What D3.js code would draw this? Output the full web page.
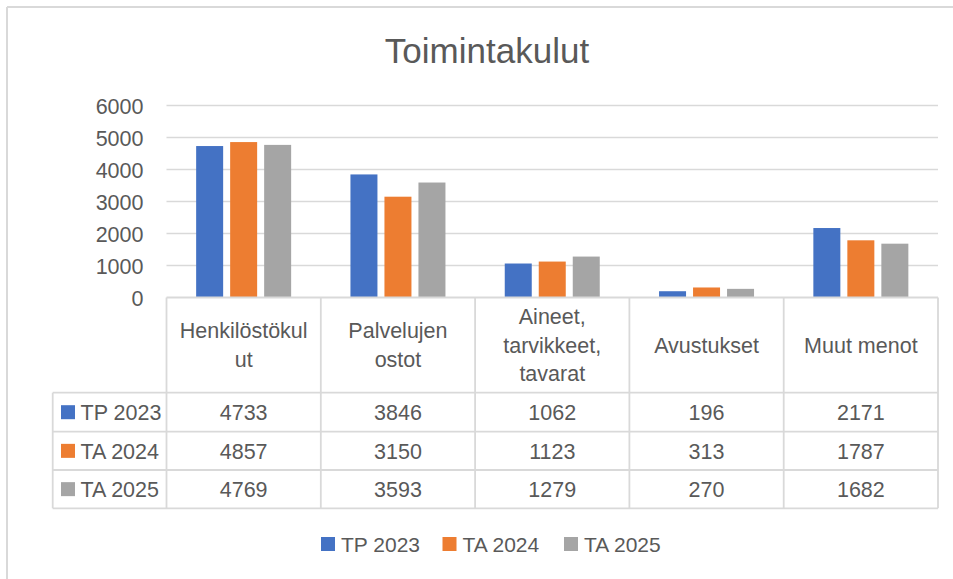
<!DOCTYPE html>
<html>
<head>
<meta charset="utf-8">
<script src="https://cdn.jsdelivr.net/npm/d3@7"></script>
<style>
  html, body { margin: 0; padding: 0; background: #fff; }
  svg { display: block; }
  text { font-family: "Liberation Sans", Arial, sans-serif; fill: #595959; }
</style>
</head>
<body>
<svg id="chart" width="953" height="579"></svg>
<script>
const title = "Toimintakulut";
const categories = ["Henkilöstökulut", "Palvelujen ostot", "Aineet, tarvikkeet, tavarat", "Avustukset", "Muut menot"];
const categoryLines = [["Henkilöstökul", "ut"], ["Palvelujen", "ostot"], ["Aineet,", "tarvikkeet,", "tavarat"], ["Avustukset"], ["Muut menot"]];
const seriesNames = ["TP 2023", "TA 2024", "TA 2025"];
const tp2023 = [4733, 3846, 1062, 196, 2171];
const ta2024 = [4857, 3150, 1123, 313, 1787];
const ta2025 = [4769, 3593, 1279, 270, 1682];
const yTicks = [0, 1000, 2000, 3000, 4000, 5000, 6000];
const colors = ["#4472C4", "#ED7D31", "#A5A5A5"];

const seriesValues = [tp2023, ta2024, ta2025];
const svg = d3.select("#chart");
const gridColor = "#d9d9d9";

// outer frame (top and left visible)
svg.append("line").attr("x1", 7).attr("x2", 953).attr("y1", 7).attr("y2", 7)
  .attr("stroke", gridColor).attr("stroke-width", 2);
svg.append("line").attr("x1", 7).attr("x2", 7).attr("y1", 7).attr("y2", 579)
  .attr("stroke", gridColor).attr("stroke-width", 2);

// title
svg.append("text").attr("x", 487).attr("y", 63).attr("text-anchor", "middle")
  .style("font-size", "35px").text(title);

const plotLeft = 166.5, plotRight = 938, y0 = 297.5;
const x0 = d3.scaleBand().domain(categories).range([plotLeft, plotRight]).padding(0);
const y = d3.scaleLinear().domain([0, 6000]).range([y0, 105.5]);
const bw = x0.bandwidth();
const groupW = 95;
const x1 = d3.scaleBand().domain(seriesNames)
  .range([(bw - groupW) / 2, (bw + groupW) / 2]).paddingInner(0.206).paddingOuter(0);

// gridlines
svg.append("g").selectAll("line").data(yTicks.filter(d => d > 0)).join("line")
  .attr("x1", plotLeft).attr("x2", plotRight)
  .attr("y1", d => y(d)).attr("y2", d => y(d))
  .attr("stroke", gridColor).attr("stroke-width", 1.5);

// y axis labels
const yAxis = d3.axisLeft(y).tickValues(yTicks).tickFormat(d3.format("d")).tickSize(0).tickPadding(0);
const ya = svg.append("g").attr("transform", "translate(143.5,0)").call(yAxis);
ya.select(".domain").remove();
ya.selectAll("text").style("font-size", "21.5px").attr("fill", "#595959")
  .style("font-family", '"Liberation Sans", Arial, sans-serif').attr("dy", "0.36em");

// bars
const groups = svg.append("g").selectAll("g").data(categories).join("g")
  .attr("transform", d => `translate(${x0(d)},0)`);
groups.selectAll("rect").data((c, ci) => seriesNames.map((s, si) => ({ s, si, v: seriesValues[si][ci] })))
  .join("rect")
  .attr("x", d => x1(d.s)).attr("width", x1.bandwidth())
  .attr("y", d => y(d.v)).attr("height", d => y0 - y(d.v))
  .attr("fill", d => colors[d.si]);

// data table
const headerBottom = 392.7;
const rowBounds = [392.7, 431.7, 470, 508.3];
const tableLeft = 52.7;
const tbl = svg.append("g");
const lineAttr = sel => sel.attr("stroke", gridColor).attr("stroke-width", 1.8);
tbl.append("line").attr("x1", plotLeft).attr("x2", plotRight).attr("y1", y0).attr("y2", y0).call(lineAttr);
rowBounds.forEach(r => tbl.append("line").attr("x1", tableLeft).attr("x2", plotRight).attr("y1", r).attr("y2", r).call(lineAttr));
const colEdges = categories.map(c => x0(c)).concat([plotRight]);
colEdges.forEach(xe => tbl.append("line").attr("x1", xe).attr("x2", xe).attr("y1", y0).attr("y2", rowBounds[3]).call(lineAttr));
tbl.append("line").attr("x1", tableLeft).attr("x2", tableLeft).attr("y1", rowBounds[0]).attr("y2", rowBounds[3]).call(lineAttr);

// header labels
const lh = 28.5;
const hc = (y0 + headerBottom) / 2 + 7.6;
categories.forEach((c, ci) => {
  const lines = categoryLines[ci];
  const t = tbl.append("text").attr("text-anchor", "middle").style("font-size", "21.5px");
  lines.forEach((ln, li) => {
    t.append("tspan").attr("x", x0(c) + bw / 2)
      .attr("y", hc + (li - (lines.length - 1) / 2) * lh).text(ln);
  });
});

// values rows
seriesNames.forEach((s, si) => {
  const rc = (rowBounds[si] + rowBounds[si + 1]) / 2;
  tbl.append("rect").attr("x", 61).attr("y", rc - 7).attr("width", 14).attr("height", 14).attr("fill", colors[si]);
  tbl.append("text").attr("x", 80.5).attr("y", rc + 7.8).style("font-size", "21.5px").text(s);
  categories.forEach((c, ci) => {
    tbl.append("text").attr("x", x0(c) + bw / 2).attr("y", rc + 7.8).attr("text-anchor", "middle")
      .style("font-size", "21.5px").text(seriesValues[si][ci]);
  });
});

// legend
const legendX = [321, 442.5, 564];
const leg = svg.append("g");
seriesNames.forEach((s, si) => {
  leg.append("rect").attr("x", legendX[si]).attr("y", 537).attr("width", 14).attr("height", 14).attr("fill", colors[si]);
  leg.append("text").attr("x", legendX[si] + 20).attr("y", 551.5).style("font-size", "21px").text(s);
});
</script>
</body>
</html>
